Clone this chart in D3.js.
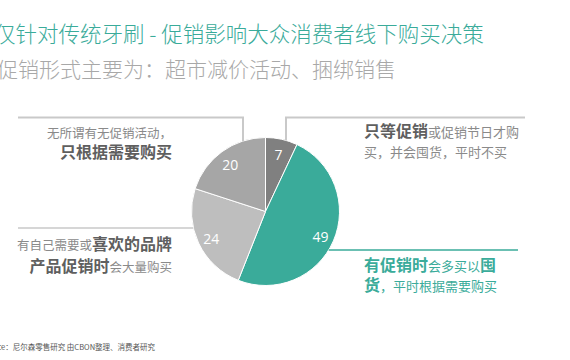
<!DOCTYPE html>
<html>
<head>
<meta charset="utf-8">
<script src="https://cdn.jsdelivr.net/npm/d3@7"></script>
<style>
  body { margin: 0; background: #fff; overflow: hidden; }
  svg { display: block; font-family: "Noto Sans CJK SC", "Noto Sans", sans-serif; }
</style>
</head>
<body>
<div id="chart"></div>
<script>
// data
var categories = ["只等促销", "有促销时多买囤货", "喜欢的品牌促销时大量购买", "只根据需要购买"];
var values = [7, 49, 24, 20];
var colors = ["#808080", "#3aab9a", "#bebebe", "#a6a6a6"];

var title = "仅针对传统牙刷 - 促销影响大众消费者线下购买决策";
var subtitle = "促销形式主要为：超市减价活动、捆绑销售";
var source = "Source：尼尔森零售研究 由CBON整理、消费者研究";

// callout texts, [text, bold]
var noteTopLeft = [
  [["无所谓有无促销活动，", false]],
  [["只根据需要购买", true]]
];
var noteBottomLeft = [
  [["有自己需要或", false], ["喜欢的品牌", true]],
  [["产品促销时", true], ["会大量购买", false]]
];
var noteTopRight = [
  [["只等促销", true], ["或促销节日才购", false]],
  [["买，并会囤货，平时不买", false]]
];
var noteBottomRight = [
  [["有促销时", true], ["会多买以", false], ["囤", true]],
  [["货", true], ["，平时根据需要购买", false]]
];

var w = 570, h = 360;
var cx = 265.5, cy = 211.5, r = 74;

var svg = d3.select("#chart").append("svg")
  .attr("width", w)
  .attr("height", h);

svg.append("text")
  .attr("x", -6).attr("y", 42)
  .attr("font-size", "21.5px")
  .attr("font-weight", 300)
  .attr("fill", "#3aab9a")
  .text(title);

svg.append("text")
  .attr("x", -3).attr("y", 77)
  .attr("font-size", "21px")
  .attr("font-weight", 300)
  .attr("fill", "#a8a8a8")
  .text(subtitle);

// pie
var pie = d3.pie().sort(null).value(function(d) { return d; });
var arc = d3.arc().innerRadius(0).outerRadius(r);
var labelArc = d3.arc().innerRadius(60).outerRadius(60);

var g = svg.append("g").attr("transform", "translate(" + cx + "," + cy + ")");
var arcs = pie(values);

g.selectAll("path")
  .data(arcs)
  .enter()
  .append("path")
  .attr("d", arc)
  .attr("fill", function(d, i) { return colors[i]; })
  .attr("stroke", "#fff")
  .attr("stroke-width", 1);

g.selectAll("text.val")
  .data(arcs)
  .enter()
  .append("text")
  .attr("class", "val")
  .attr("transform", function(d) {
    var c = labelArc.centroid(d);
    return "translate(" + c[0] + "," + c[1] + ")";
  })
  .attr("text-anchor", "middle")
  .attr("dy", "0.5em")
  .attr("font-size", "14px")
  .attr("font-family", "'Open Sans', sans-serif")
  .attr("fill", "#fff")
  .text(function(d) { return d.data; });

// helper: edge of pie at given x (top) or y (side)
function edgeYTop(x) { return cy - Math.sqrt(r * r - (x - cx) * (x - cx)); }
function edgeXSide(y, side) { return cx + side * Math.sqrt(r * r - (y - cy) * (y - cy)); }

var grey = "#c9c9c9";
// top left leader
svg.append("path")
  .attr("d", "M18,117.5 H243 V" + edgeYTop(243))
  .attr("fill", "none").attr("stroke", grey).attr("stroke-width", 2);
// top right leader
svg.append("path")
  .attr("d", "M286," + edgeYTop(286) + " V117.5 H525")
  .attr("fill", "none").attr("stroke", grey).attr("stroke-width", 2);
// bottom left leader
svg.append("path")
  .attr("d", "M18,228 H" + edgeXSide(228, -1))
  .attr("fill", "none").attr("stroke", grey).attr("stroke-width", 1.5);
// bottom right leader
svg.append("path")
  .attr("d", "M" + edgeXSide(250, 1) + ",250 H518")
  .attr("fill", "none").attr("stroke", "#3aab9a").attr("stroke-width", 1.5);

function note(lines, x, ys, anchor, color, boldColor, regSize, boldSize) {
  lines.forEach(function(line, i) {
    var t = svg.append("text")
      .attr("x", x).attr("y", ys[i])
      .attr("text-anchor", anchor);
    line.forEach(function(seg) {
      t.append("tspan")
        .attr("font-size", seg[1] ? boldSize : regSize)
        .attr("font-weight", seg[1] ? "bold" : "normal")
        .attr("fill", seg[1] ? boldColor : color)
        .text(seg[0]);
    });
  });
}

note(noteTopLeft, 172, [138, 158], "end", "#8a8a8a", "#5f5f5f", "12.5px", "16px");
note(noteBottomLeft, 172, [250, 272], "end", "#8a8a8a", "#5f5f5f", "12.5px", "16px");
note(noteTopRight, 364, [137, 157], "start", "#8a8a8a", "#5f5f5f", "13px", "16px");
note(noteBottomRight, 364, [271, 291], "start", "#3aab9a", "#3aab9a", "13px", "16px");

svg.append("text")
  .attr("x", -19).attr("y", 350)
  .attr("font-size", "7.5px")
  .attr("fill", "#555")
  .text(source);
</script>
</body>
</html>
